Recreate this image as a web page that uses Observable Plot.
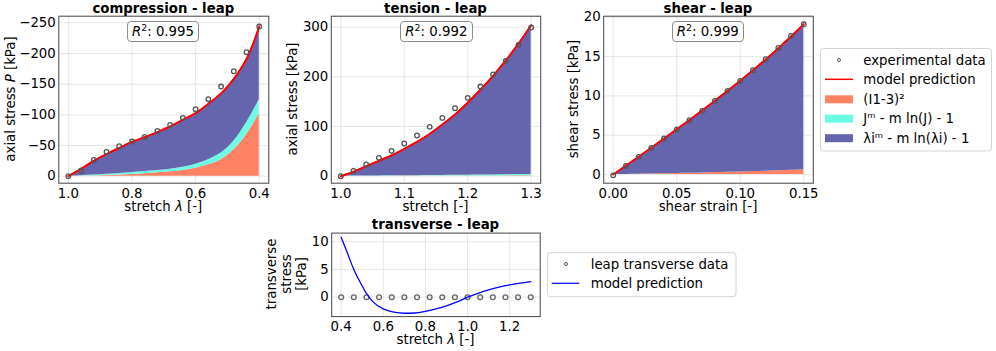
<!DOCTYPE html>
<html><head><meta charset="utf-8">
<script src="https://cdn.jsdelivr.net/npm/d3@7"></script>
<script src="https://cdn.jsdelivr.net/npm/@observablehq/plot@0.6"></script>
<style>
body{margin:0;background:#fff;}
#fig{position:relative;width:996px;height:351px;font-family:"DejaVu Sans",sans-serif;font-size:13.3px;color:#000;overflow:hidden;background:#fff;}
.t{position:absolute;transform:translate(-50%,-50%);white-space:nowrap;line-height:1;}
.title{font-weight:bold;}
.yl{position:absolute;transform:translate(-50%,-50%) rotate(-90deg);white-space:nowrap;text-align:center;line-height:15.2px;}
.r2{position:absolute;border:1px solid #8c8c8c;border-radius:4px;background:#fff;box-sizing:border-box;display:flex;align-items:center;justify-content:center;line-height:1;}
.r2 .sup{font-size:9.4px;position:relative;top:-5px;}
</style></head><body><div id="fig"></div><script>
// ---------- data ----------
// compression
const compStretchExp = [1.00,0.96,0.92,0.88,0.84,0.80,0.76,0.72,0.68,0.64,0.60,0.56,0.52,0.48,0.44,0.40];
const compStressExp  = [0,-9.2,-26.6,-39.6,-48.9,-56.5,-64.1,-73.9,-83.6,-95.1,-109.2,-125.5,-146.1,-171.1,-202.1,-243.9];
const compStretch    = [1.00,0.96,0.92,0.88,0.84,0.80,0.76,0.72,0.68,0.64,0.60,0.56,0.52,0.50,0.48,0.46,0.44,0.42,0.40];
const compModel      = [0,-12,-25,-36,-46,-56,-63.5,-72,-81,-92,-102.7,-118,-135,-146,-158.5,-173.5,-191,-215,-244];
const compI1Top      = [0,-0.15,-0.5,-1.1,-1.9,-2.9,-4.1,-5.5,-7.2,-9.5,-13,-18.5,-27,-34,-43,-54,-68,-84,-102];
const compJTop       = [0,-0.8,-1.9,-3.2,-4.6,-6.1,-7.6,-9.3,-11.5,-14.5,-19.5,-27,-38,-46,-57,-71,-87,-105,-124.5];
const compXTicks = [1.0,0.8,0.6,0.4];
const compYTicks = [0,-50,-100,-150,-200,-250];
// tension
const tenStretch   = [1.00,1.02,1.04,1.06,1.08,1.10,1.12,1.14,1.16,1.18,1.20,1.22,1.24,1.26,1.28,1.30];
const tenStressExp = [0,10.7,23.5,36.9,51,65.8,81.9,99.3,117.4,136.9,157.7,180.5,204.7,232.2,264.4,299.3];
const tenModel     = [0,9,20,31,42,55,69,85,104,124,148,174,202,233,267,304];
const tenI1Top     = [0,0.02,0.05,0.08,0.12,0.16,0.2,0.26,0.3,0.36,0.42,0.5,0.56,0.64,0.72,0.8];
const tenJTop      = [0,0.15,0.3,0.5,0.7,0.9,1.1,1.3,1.5,1.8,2.0,2.3,2.6,2.9,3.3,3.6];
const tenXTicks = [1.0,1.1,1.2,1.3];
const tenYTicks = [0,100,200,300];
// shear
const shStrain    = [0,0.01,0.02,0.03,0.04,0.05,0.06,0.07,0.08,0.09,0.10,0.11,0.12,0.13,0.14,0.15];
const shStressExp = [-0.1,1.1,2.25,3.39,4.58,5.72,6.9,8.09,9.36,10.64,11.9,13.26,14.66,16.1,17.63,19.1];
const shModel     = [0,1.13,2.26,3.41,4.57,5.75,6.94,8.15,9.38,10.64,11.93,13.26,14.64,16.07,17.55,19.1];
const shI1Top     = [0,0.02,0.05,0.08,0.1,0.14,0.17,0.2,0.25,0.29,0.33,0.38,0.43,0.49,0.55,0.62];
const shXTicks = [0,0.05,0.10,0.15];
const shYTicks = [0,5,10,15,20];
// transverse
const trStretchExp = [0.40,0.46,0.52,0.58,0.64,0.70,0.76,0.82,0.88,0.94,1.00,1.06,1.12,1.18,1.24,1.30];
const trStressExp  = [0,0,0,0,0,0,0,0,0,0,0,0,0,0,0,0];
const trStretch    = [0.40,0.43,0.46,0.49,0.52,0.55,0.60,0.65,0.70,0.75,0.80,0.85,0.90,0.95,1.00,1.05,1.10,1.15,1.20,1.25,1.30];
const trModel      = [10.8,7.9,5.0,2.7,0.7,-0.8,-2.1,-2.7,-2.9,-2.85,-2.55,-2.1,-1.55,-0.85,0,0.7,1.3,1.8,2.2,2.52,2.8];
const trXTicks = [0.4,0.6,0.8,1.0,1.2];
const trYTicks = [0,5,10];

// ---------- styles ----------
const cOrange = "#ff8264", cCyan = "#6cfce4", cBlue = "#6565ae";
const gridStyle = {stroke:"#b0b0b0", strokeOpacity:0.3};
const dotStyle = {r:2.3, stroke:"#555", strokeWidth:1.3, fill:"none"};
const fig = document.getElementById("fig");
const pstyle = {fontFamily:"DejaVu Sans", fontSize:"13.3px", background:"transparent", overflow:"visible", color:"#000"};

function place(el, left, top){
  const w = document.createElement("div");
  w.style.cssText = `position:absolute;left:${left}px;top:${top}px;`;
  w.appendChild(el); fig.appendChild(w);
}
function zip(xs, cols){ return xs.map((x,i)=>{ const o={x}; for(const k in cols) o[k]=cols[k][i]; return o; }); }

// ---------- compression ----------
{
  const stack = zip(compStretch, {m:compModel, a:compI1Top, b:compJTop});
  const exp = zip(compStretchExp, {y:compStressExp});
  place(Plot.plot({
    width:280, height:215, marginLeft:58.3, marginRight:11.7, marginTop:15.7, marginBottom:32.3,
    style:pstyle,
    x:{domain:[1.03,0.37]}, y:{domain:[11.4,-260.8]},
    marks:[
      Plot.gridX(compXTicks, gridStyle), Plot.gridY(compYTicks, gridStyle),
      Plot.areaY(stack, {x:"x", y1:0, y2:"a", fill:cOrange, curve:"catmull-rom"}),
      Plot.areaY(stack, {x:"x", y1:"a", y2:"b", fill:cCyan, curve:"catmull-rom"}),
      Plot.areaY(stack, {x:"x", y1:"b", y2:"m", fill:cBlue, curve:"catmull-rom"}),
      Plot.line(stack, {x:"x", y:"m", stroke:"#ff0000", strokeWidth:2, curve:"catmull-rom"}),
      Plot.dot(exp, {x:"x", y:"y", ...dotStyle}),
      Plot.axisX({ticks:compXTicks, tickSize:0, tickPadding:5, tickFormat:d3.format(".1f"), label:null}),
      Plot.axisY({ticks:compYTicks, tickSize:0, tickPadding:3, tickFormat:d3.format("d"), label:null}),
      Plot.frame({stroke:"#444", strokeWidth:1})
    ]
  }), 0, 0);
}
// ---------- tension ----------
{
  const stack = zip(tenStretch, {m:tenModel, a:tenI1Top, b:tenJTop});
  const exp = zip(tenStretch, {y:tenStressExp});
  place(Plot.plot({
    width:270, height:215, marginLeft:50.8, marginRight:9.8, marginTop:15.7, marginBottom:32.3,
    style:pstyle,
    x:{domain:[0.985,1.315]}, y:{domain:[-14.1,322.1]},
    marks:[
      Plot.gridX(tenXTicks, gridStyle), Plot.gridY(tenYTicks, gridStyle),
      Plot.areaY(stack, {x:"x", y1:0, y2:"a", fill:cOrange, curve:"catmull-rom"}),
      Plot.areaY(stack, {x:"x", y1:"a", y2:"b", fill:cCyan, curve:"catmull-rom"}),
      Plot.areaY(stack, {x:"x", y1:"b", y2:"m", fill:cBlue, curve:"catmull-rom"}),
      Plot.line(stack, {x:"x", y:"m", stroke:"#ff0000", strokeWidth:2, curve:"catmull-rom"}),
      Plot.dot(exp, {x:"x", y:"y", ...dotStyle}),
      Plot.axisX({ticks:tenXTicks, tickSize:0, tickPadding:5, tickFormat:d3.format(".1f"), label:null}),
      Plot.axisY({ticks:tenYTicks, tickSize:0, tickPadding:3, tickFormat:d3.format("d"), label:null}),
      Plot.frame({stroke:"#444", strokeWidth:1})
    ]
  }), 280, 0);
}
// ---------- shear ----------
{
  const stack = zip(shStrain, {m:shModel, a:shI1Top});
  const exp = zip(shStrain, {y:shStressExp});
  place(Plot.plot({
    width:280, height:215, marginLeft:53.2, marginRight:17.2, marginTop:15.7, marginBottom:32.3,
    style:pstyle,
    x:{domain:[-0.0075,0.1575]}, y:{domain:[-1.1,20.13]},
    marks:[
      Plot.gridX(shXTicks, gridStyle), Plot.gridY(shYTicks, gridStyle),
      Plot.areaY(stack, {x:"x", y1:0, y2:"a", fill:cOrange, curve:"catmull-rom"}),
      Plot.areaY(stack, {x:"x", y1:"a", y2:"m", fill:cBlue, curve:"catmull-rom"}),
      Plot.line(stack, {x:"x", y:"m", stroke:"#ff0000", strokeWidth:2, curve:"catmull-rom"}),
      Plot.dot(exp, {x:"x", y:"y", ...dotStyle}),
      Plot.axisX({ticks:shXTicks, tickSize:0, tickPadding:5, tickFormat:d3.format(".2f"), label:null}),
      Plot.axisY({ticks:shYTicks, tickSize:0, tickPadding:3, tickFormat:d3.format("d"), label:null}),
      Plot.frame({stroke:"#444", strokeWidth:1})
    ]
  }), 550, 0);
}
// ---------- transverse ----------
{
  const model = zip(trStretch, {y:trModel});
  const exp = zip(trStretchExp, {y:trStressExp});
  place(Plot.plot({
    width:270, height:120, marginLeft:51.2, marginRight:10.3, marginTop:17.6, marginBottom:18.9,
    style:pstyle,
    x:{domain:[0.355,1.345]}, y:{domain:[-3.5,11.55]},
    marks:[
      Plot.gridX(trXTicks, gridStyle), Plot.gridY(trYTicks, gridStyle),
      Plot.dot(exp, {x:"x", y:"y", r:2.4, stroke:"#666", strokeWidth:1.3, fill:"none"}),
      Plot.line(model, {x:"x", y:"y", stroke:"#0000ff", strokeWidth:1.3, curve:"monotone-x"}),
      Plot.axisX({ticks:trXTicks, tickSize:0, tickPadding:5, tickFormat:d3.format(".1f"), label:null}),
      Plot.axisY({ticks:trYTicks, tickSize:0, tickPadding:3, tickFormat:d3.format("d"), label:null}),
      Plot.frame({stroke:"#444", strokeWidth:1})
    ]
  }), 280, 215);
}

// ---------- texts ----------
function txt(html, x, y, cls){ const d=document.createElement("div"); d.className=cls; d.innerHTML=html; d.style.left=x+"px"; d.style.top=y+"px"; fig.appendChild(d); }
txt("compression - leap", 163.3, 9.3, "t title");
txt("tension - leap", 435.5, 9.3, "t title");
txt("shear - leap", 708, 9.3, "t title");
txt("transverse - leap", 435.5, 225, "t title");
txt("stretch <i>λ</i> [-]", 163.3, 206.7, "t");
txt("stretch [-]", 435.5, 206.7, "t");
txt("shear strain [-]", 708, 206.7, "t");
txt("stretch <i>λ</i> [-]", 435.5, 340, "t");
txt("axial stress <i>P</i> [kPa]", 10.5, 99.2, "yl");
txt("axial stress [kPa]", 293.3, 99.2, "yl");
txt("shear stress [kPa]", 573.5, 99.2, "yl");
txt("transverse<br>stress<br>[kPa]", 287.4, 274.4, "yl");

function r2(val, left, top, w, h){
  const d=document.createElement("div"); d.className="r2";
  d.style.cssText += `left:${left}px;top:${top}px;width:${w}px;height:${h}px;`;
  d.innerHTML = `<span><i>R</i><span class="sup">2</span>: ${val}</span>`;
  fig.appendChild(d);
}
r2("0.995", 126.7, 21, 72.6, 20.7);
r2("0.992", 400, 20.7, 72.7, 21);
r2("0.999", 671.7, 20.7, 72.3, 21);

// ---------- legends ----------
const legendItems = ["experimental data","model prediction","(I1-3)²","Jᵐ - m ln(J) - 1","λiᵐ - m ln(λi) - 1"];
const legendItems2 = ["leap transverse data","model prediction"];
const svg = d3.create("svg").attr("width",996).attr("height",351)
  .style("position","absolute").style("left","0").style("top","0")
  .style("font-family","DejaVu Sans").style("font-size","13.3px");
// legend 1
svg.append("rect").attr("x",820.5).attr("y",48.5).attr("width",171).attr("height",102.5).attr("rx",3)
  .attr("fill","#fff").attr("stroke","#d4d4d4");
const ly = [60,79.3,99.3,118.7,138.2];
svg.append("circle").attr("cx",839).attr("cy",ly[0]).attr("r",1.5).attr("fill","none").attr("stroke","#555").attr("stroke-width",1);
svg.append("line").attr("x1",825).attr("x2",853).attr("y1",ly[1]).attr("y2",ly[1]).attr("stroke","#ff0000").attr("stroke-width",1.5);
[cOrange,cCyan,cBlue].forEach((c,i)=>svg.append("rect").attr("x",825).attr("y",ly[i+2]-4).attr("width",28).attr("height",8).attr("fill",c));
legendItems.forEach((t,i)=>svg.append("text").attr("x",863.3).attr("y",ly[i]).attr("dy","0.36em").text(t));
// legend 2
svg.append("rect").attr("x",547.5).attr("y",252.7).attr("width",188.5).attr("height",44).attr("rx",3)
  .attr("fill","#fff").attr("stroke","#d4d4d4");
const ly2 = [264,283.3];
svg.append("circle").attr("cx",566).attr("cy",ly2[0]).attr("r",1.5).attr("fill","none").attr("stroke","#555").attr("stroke-width",1);
svg.append("line").attr("x1",551.7).attr("x2",579.3).attr("y1",ly2[1]).attr("y2",ly2[1]).attr("stroke","#0000ff").attr("stroke-width",1.2);
legendItems2.forEach((t,i)=>svg.append("text").attr("x",590.7).attr("y",ly2[i]).attr("dy","0.36em").text(t));
fig.appendChild(svg.node());
</script></body></html>
